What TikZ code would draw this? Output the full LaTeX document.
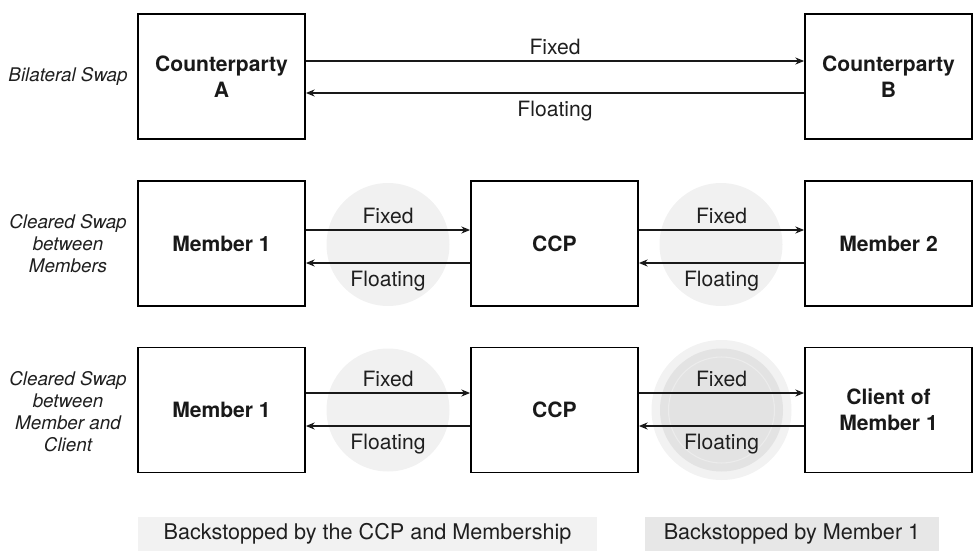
\documentclass[tikz,border=0pt]{standalone}
\usepackage{fontspec}
\setmainfont{TeX Gyre Heros}
\usetikzlibrary{arrows.meta}
\begin{document}
\begin{tikzpicture}[x=0.2mm,y=-0.2mm,
		party/.style={draw,line width=1pt,minimum width=33.4mm,minimum height=25mm,inner sep=0pt,align=center,
			font=\bfseries\fontsize{12}{14.8}\selectfont,text=black!90},
		flow/.style={-{Stealth[length=5pt,width=4pt]},line width=0.8pt,black!90},
		leg/.style={inner sep=0pt,font=\fontsize{12}{14}\selectfont,text=black!88},
		rowlabel/.style={align=center,font=\itshape\fontsize{10.7}{12.5}\selectfont,text=black!88},
		halo/.style={circle,fill=gray!11,minimum size=24.6mm,inner sep=0pt},
		band/.style={minimum height=6.8mm,inner sep=0pt,font=\fontsize{12.3}{14}\selectfont,text=black!88}
	]
	\useasboundingbox (0,0) rectangle (975,552);
	% shaded areas
	\node[halo] (h1) at (388,244.5) {};
	\node[halo] (h2) at (721,244.5) {};
	\node[halo] (h3) at (388,410) {};
	\node[halo,minimum size=28mm,fill=gray!10] (h4) at (721.5,410) {};
	\node[halo,minimum size=24.6mm,fill=gray!22] (h5) at (721.5,410) {};
	\node[circle,draw=gray!15,line width=0.6pt,minimum size=21.2mm,inner sep=0pt] (h6) at (721.5,410) {};
	% row labels
	\node[rowlabel] (r1) at (68,76.5) {Bilateral Swap};
	\node[rowlabel] (r2) at (68,244) {Cleared Swap\\between\\Members};
	\node[rowlabel] (r3) at (68,412) {Cleared Swap\\between\\Member and\\Client};
	% parties
	\node[party] (ca) at (221.5,76.5) {Counterparty\\A};
	\node[party] (cb) at (888.5,76.5) {Counterparty\\B};
	\node[party] (ma) at (221.5,243.5) {Member 1};
	\node[party] (cc) at (554.5,243.5) {CCP};
	\node[party] (mb) at (888.5,243.5) {Member 2};
	\node[party] (mc) at (221.5,410) {Member 1};
	\node[party] (cd) at (554.5,410) {CCP};
	\node[party] (cl) at (888.5,410) {Client of\\Member 1};
	% payments
	\foreach \l/\r/\u/\d in {ca/cb/3.1/-3.3, ma/cc/2.7/-3.9, cc/mb/2.7/-3.9, mc/cd/3.4/-3.2, cd/cl/3.4/-3.2} {
		\draw[flow] ([yshift=\u mm]\l.east) -- node[leg,above=3.2pt]{Fixed} ([yshift=\u mm]\r.west);
		\draw[flow] ([yshift=\d mm]\r.west) -- node[leg,below=4pt]{Floating} ([yshift=\d mm]\l.east);
	}
	% backstops
	\node[band,fill=gray!10,minimum width=91.8mm] (b1) at (367.5,534) {Backstopped by the CCP and Membership};
	\node[band,fill=gray!19,minimum width=58.8mm] (b2) at (792,534) {Backstopped by Member 1};
\end{tikzpicture}
\end{document}
